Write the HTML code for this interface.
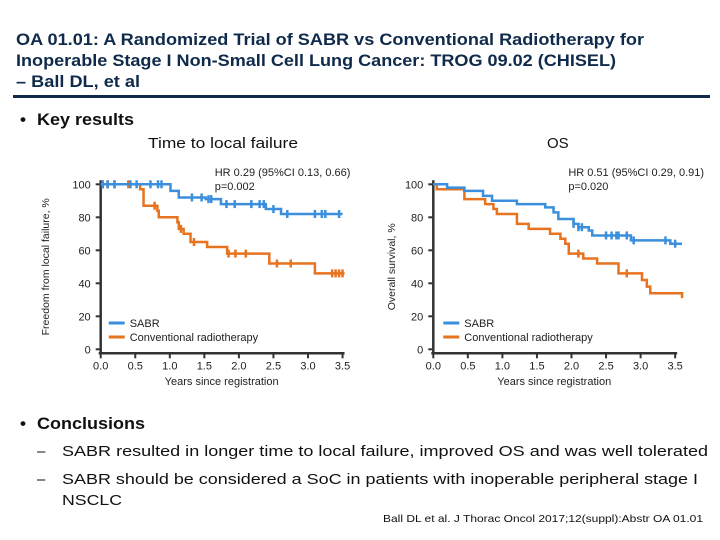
<!DOCTYPE html>
<html><head><meta charset="utf-8"><style>
html,body{margin:0;padding:0;background:#fff}
svg{display:block;font-family:"Liberation Sans",Arial,sans-serif}
</style></head><body>
<svg width="720" height="540" viewBox="0 0 720 540">
<g fill="#0f2a4a" font-weight="bold" font-size="17">
<text x="16" y="45" textLength="628" lengthAdjust="spacingAndGlyphs">OA 01.01: A Randomized Trial of SABR vs Conventional Radiotherapy for</text>
<text x="16" y="66" textLength="600" lengthAdjust="spacingAndGlyphs">Inoperable Stage I Non-Small Cell Lung Cancer: TROG 09.02 (CHISEL)</text>
<text x="16" y="87" textLength="124" lengthAdjust="spacingAndGlyphs">– Ball DL, et al</text>
</g>
<rect x="13" y="95" width="697" height="3" fill="#0f2a4a"/>
<g fill="#111" font-weight="bold" font-size="17">
<text x="20" y="125">•</text>
<text x="37" y="125" textLength="97" lengthAdjust="spacingAndGlyphs">Key results</text>
<text x="20" y="429">•</text>
<text x="37" y="429" textLength="108" lengthAdjust="spacingAndGlyphs">Conclusions</text>
</g>
<g font-size="15" fill="#111">
<text x="148" y="148" textLength="150" lengthAdjust="spacingAndGlyphs">Time to local failure</text>
<text x="547" y="148">OS</text>
<text x="37" y="456">–</text>
<text x="62" y="456" textLength="646" lengthAdjust="spacingAndGlyphs">SABR resulted in longer time to local failure, improved OS and was well tolerated</text>
<text x="37" y="484">–</text>
<text x="62" y="484" textLength="636" lengthAdjust="spacingAndGlyphs">SABR should be considered a SoC in patients with inoperable peripheral stage I</text>
<text x="62" y="505" textLength="60" lengthAdjust="spacingAndGlyphs">NSCLC</text>
</g>
<text x="383" y="522" font-size="10.5" fill="#111" textLength="320" lengthAdjust="spacingAndGlyphs">Ball DL et al. J Thorac Oncol 2017;12(suppl):Abstr OA 01.01</text>
<g id="c1"></g>
<g id="c2"></g>
</svg>
<script>
const xTicks=[0,0.5,1,1.5,2,2.5,3,3.5];
const yTicks=[0,20,40,60,80,100];
const lfSabrT=[0,1.01,1.13,1.52,1.74,2.39,2.61,3.5];
const lfSabrS=[100,96,92,91,88,85,82,82];
const lfSabrCens=[0.03,0.1,0.2,0.43,0.52,0.72,0.83,0.88,1.32,1.46,1.56,1.6,1.82,1.94,2.18,2.3,2.36,2.5,2.7,3.1,3.2,3.25,3.45];
const lfConvT=[0,0.57,0.62,0.82,0.84,1.11,1.13,1.2,1.3,1.54,1.83,2.44,3.1,3.53];
const lfConvS=[100,97,87,84,80,77,73,70,65,62,58,52,46,46];
const lfConvCens=[0.03,0.1,0.2,0.4,0.78,1.16,1.35,1.85,1.95,2.1,2.55,2.75,3.35,3.4,3.45,3.5];
const osSabrT=[0,0.2,0.45,0.72,0.85,1.21,1.62,1.74,1.81,2.03,2.1,2.25,2.3,2.86,3.43,3.6];
const osSabrS=[100,98,96,93,90,88,86,83,79,76,74,72,69,66,64,64];
const osSabrCens=[2.03,2.1,2.15,2.5,2.58,2.65,2.68,2.8,2.9,3.36,3.5];
const osConvT=[0,0.05,0.45,0.75,0.87,0.92,1.21,1.38,1.69,1.84,1.91,1.96,2.17,2.37,2.68,3.02,3.09,3.14,3.6];
const osConvS=[100,97,91,88,85,82,76,73,70,67,64,58,55,52,46,42,38,34,31];
const osConvCens=[2.1,2.8];
const NS='http://www.w3.org/2000/svg';
const BLUE='#3b8fdc',ORANGE='#e8731f';
function mk(p,tag,a){const e=document.createElementNS(NS,tag);for(const k in a)e.setAttribute(k,a[k]);p.appendChild(e);return e;}
function surv(T,S,t){let v=S[0];for(let i=0;i<T.length;i++){if(T[i]<=t)v=S[i];}return v;}
function chart(g,x0,ylabel,ylabX,hr,T1,S1,C1,T2,S2,C2){
 const X=t=>x0+t*69.1, Y=v=>349.3-v*1.65;
 const ax=mk(g,'path',{d:`M${x0},${Y(100)-4}V${Y(0)+3}M${x0-2},${Y(0)+4}H${X(3.5)+2}`,stroke:'#333','stroke-width':2.5,fill:'none'});
 
 yTicks.forEach(v=>{
  const tk=mk(g,'line',{x1:x0-5,x2:x0,y1:Y(v),y2:Y(v),stroke:'#333','stroke-width':2});
  
  const tl=mk(g,'text',{x:x0-10,y:Y(v)+4,'font-size':11,'text-anchor':'end',fill:'#222'});tl.textContent=v;
  
 });
 xTicks.forEach(t=>{
  const tk=mk(g,'line',{x1:X(t),x2:X(t),y1:Y(0)+4,y2:Y(0)+9,stroke:'#333','stroke-width':2});
  
  const tl=mk(g,'text',{x:X(t),y:Y(0)+20,'font-size':11,'text-anchor':'middle',fill:'#222'});tl.textContent=t.toFixed(1);
  
 });
 const xt=mk(g,'text',{x:X(1.75),y:385,'font-size':11,'text-anchor':'middle',fill:'#222'});xt.textContent='Years since registration';
 
 const yt=mk(g,'text',{x:0,y:0,'font-size':10.5,'text-anchor':'middle',fill:'#222',transform:`translate(${ylabX},${Y(50)}) rotate(-90)`});yt.textContent=ylabel;
 
 const h1=mk(g,'text',{x:X(1.65)+(x0>300?21:0),y:176,'font-size':11,fill:'#222'});h1.textContent=hr;
 
 const h2=mk(g,'text',{x:X(1.65)+(x0>300?21:0),y:190,'font-size':11,fill:'#222'});h2.textContent=x0>300?'p=0.020':'p=0.002';
 
 [[T2,S2,C2,ORANGE,'conventional'],[T1,S1,C1,BLUE,'sabr']].forEach(([T,S,C,col,nm])=>{
  let d=`M${X(T[0])},${Y(S[0])}`;
  for(let i=1;i<T.length;i++){d+=`H${X(T[i])}V${Y(S[i])}`;}
  const p=mk(g,'path',{d,stroke:col,'stroke-width':2.5,fill:'none'});
  
  C.forEach(t=>{
   const c=mk(g,'line',{x1:X(t),x2:X(t),y1:Y(surv(T,S,t))-4,y2:Y(surv(T,S,t))+4,stroke:col,'stroke-width':2.5});
   
  });
 });
 const lx=x0+(x0>300?10:8);
 [[BLUE,'SABR',327],[ORANGE,'Conventional radiotherapy',341]].forEach(([col,txt,y])=>{
  const l=mk(g,'line',{x1:lx,x2:lx+16,y1:y-4,y2:y-4,stroke:col,'stroke-width':3});
  
  const t=mk(g,'text',{x:lx+21,y:y,'font-size':11,fill:'#222'});t.textContent=txt;
  
 });
}
chart(document.getElementById('c1'),100.7,'Freedom from local failure, %',49,'HR 0.29 (95%CI 0.13, 0.66)',lfSabrT,lfSabrS,lfSabrCens,lfConvT,lfConvS,lfConvCens);
chart(document.getElementById('c2'),433.3,'Overall survival, %',395,'HR 0.51 (95%CI 0.29, 0.91)',osSabrT,osSabrS,osSabrCens,osConvT,osConvS,osConvCens);
</script>
</body></html>
